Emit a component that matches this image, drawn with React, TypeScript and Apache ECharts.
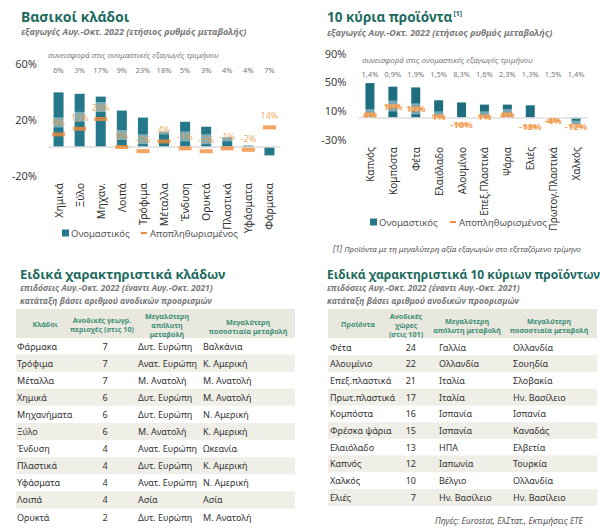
import React, { useEffect, useRef } from "react";
import * as echarts from "echarts";

const FONT = "'Noto Sans', 'Open Sans', sans-serif";

// Chart 1: sectors
const sectors = ["Χημικά", "Ξύλο", "Μηχαν.", "Λοιπά", "Τρόφιμα", "Μέταλλα", "Ένδυση", "Ορυκτά", "Πλαστικά", "Υφάσματα", "Φάρμακα"];
const sectorNominal = [39, 38, 36, 26, 21, 11, 18, 14.5, 7, 1, -6];
const sectorDeflated = [9, 13, 20, 0, -3, 4, -1, -3, -1, -2, 14];
const sectorShare = ["6%", "3%", "17%", "9%", "23%", "18%", "5%", "3%", "4%", "4%", "7%"];

// Chart 2: products
const products = ["Καπνός", "Κομπόστα", "Φέτα", "Ελαιόλαδο", "Αλουμίνιο", "Επεξ.Πλαστικά", "Ψάρια", "Ελιές", "Πρωτογ.Πλαστικά", "Χαλκός"];
const productNominal = [48, 43, 42, 24, 21, 18, 18, 17, 0.5, -9];
const productDeflated = [4, 16, 12, 1, -10, 1, 4, -13, -4, -12];
const productShare = ["1,4%", "0,9%", "1,9%", "1,5%", "8,3%", "1,6%", "2,3%", "1,3%", "1,5%", "1,4%"];

// Table 1: sectors
const tSectorNames = ["Φάρμακα", "Τρόφιμα", "Μέταλλα", "Χημικά", "Μηχανήματα", "Ξύλο", "Ένδυση", "Πλαστικά", "Υφάσματα", "Λοιπά", "Ορυκτά"];
const tSectorUp = [7, 7, 7, 6, 6, 6, 4, 4, 4, 4, 2];
const tSectorAbs = ["Δυτ. Ευρώπη", "Ανατ. Ευρώπη", "Μ. Ανατολή", "Δυτ. Ευρώπη", "Δυτ. Ευρώπη", "Μ. Ανατολή", "Ανατ. Ευρώπη", "Δυτ. Ευρώπη", "Ανατ. Ευρώπη", "Ασία", "Δυτ. Ευρώπη"];
const tSectorPct = ["Βαλκάνια", "Κ. Αμερική", "Μ. Ανατολή", "Μ. Ανατολή", "Ν. Αμερική", "Κ. Αμερική", "Ωκεανία", "Κ. Αμερική", "Ν. Αμερική", "Ασία", "Μ. Ανατολή"];

// Table 2: products
const tProdNames = ["Φέτα", "Αλουμίνιο", "Επεξ.πλαστικά", "Πρωτ.πλαστικά", "Κομπόστα", "Φρέσκα ψάρια", "Ελαιόλαδο", "Καπνός", "Χαλκός", "Ελιές"];
const tProdUp = [24, 22, 21, 17, 16, 15, 13, 12, 10, 7];
const tProdAbs = ["Γαλλία", "Ολλανδία", "Ιταλία", "Ιταλία", "Ισπανία", "Ισπανία", "ΗΠΑ", "Ιαπωνία", "Βέλγιο", "Ην. Βασίλειο"];
const tProdPct = ["Ολλανδία", "Σουηδία", "Σλοβακία", "Ην. Βασίλειο", "Ισπανία", "Καναδάς", "Ελβετία", "Τουρκία", "Ολλανδία", "Ην. Βασίλειο"];

const TEAL = "#25788a";
const ORANGE = "#f28c38";
const TITLE = "#1d6b60";
const HEAD = "#3f8f78";
const GRAY = "#7a7a7a";
const STRIPE = "#efeee7";
const HEADBG = "#e9e8de";

function txt(x: number, y: number, text: string, o: any = {}) {
  return {
    type: "text",
    x,
    y,
    silent: true,
    style: {
      text,
      fontFamily: FONT,
      fontSize: o.size || 9,
      fontWeight: o.weight || "normal",
      fontStyle: o.style || "normal",
      fill: o.color || "#333",
      textAlign: o.align || "left",
      align: o.align || "left",
      textVerticalAlign: "middle",
      verticalAlign: "middle",
      rich: o.rich || undefined,
    },
  };
}

// multi-line header: one text element per line
function lines(g: any[], x: number, ys: number[], parts: string[], o: any) {
  parts.forEach((p, i) => g.push(txt(x, ys[i], p, o)));
}

function buildGraphic() {
  const g: any[] = [];
  const sub = { size: 9, weight: "bold", style: "italic", color: GRAY };
  // Titles
  g.push(txt(21, 16, "Βασικοί κλάδοι", { size: 14, weight: "bold", color: TITLE }));
  g.push(txt(21, 31, "εξαγωγές Αυγ.-Οκτ. 2022 (ετήσιος ρυθμός μεταβολής)", sub));
  g.push(txt(48, 54, "συνεισφορά στις ονομαστικές εξαγωγές τριμήνου", { size: 8, style: "italic", color: GRAY }));

  g.push(
    txt(327, 17, "10 κύρια προϊόντα{sup|[1]}", {
      size: 13.5,
      weight: "bold",
      color: TITLE,
      rich: { sup: { fontSize: 7, fontWeight: "bold", fill: TITLE, color: TITLE, fontFamily: FONT, padding: [0, 0, 8, 1] } },
    })
  );
  g.push(txt(327, 32, "εξαγωγές Αυγ.-Οκτ. 2022 (ετήσιος ρυθμός μεταβολής)", sub));
  g.push(txt(362, 59, "συνεισφορά στις ονομαστικές εξαγωγές τριμήνου", { size: 8, style: "italic", color: GRAY }));

  // Legends
  const legend = (x1: number, x2: number, y: number) => {
    g.push({ type: "rect", silent: true, shape: { x: x1, y: y - 3.5, width: 7, height: 7 }, style: { fill: TEAL } });
    g.push(txt(x1 + 9, y, "Ονομαστικός", { size: 9.5, color: "#555" }));
    g.push({ type: "rect", silent: true, shape: { x: x2, y: y - 1, width: 6, height: 2 }, style: { fill: ORANGE } });
    g.push(txt(x2 + 9, y, "Αποπληθωρισμένος", { size: 9.5, color: "#555" }));
  };
  legend(62, 141, 233);
  legend(370, 450, 222);

  g.push(txt(333, 248, "[1] Προϊόντα με τη μεγαλύτερη αξία εξαγωγών στο εξεταζόμενο τρίμηνο", { size: 8, style: "italic", color: "#555" }));

  // Table titles
  const sub2 = { size: 8.5, weight: "bold", style: "italic", color: GRAY };
  g.push(txt(20, 274, "Ειδικά χαρακτηριστικά κλάδων", { size: 13, weight: "bold", color: TITLE }));
  g.push(txt(20, 287, "επιδόσεις Αυγ.-Οκτ. 2022 (έναντι Αυγ.-Οκτ. 2021)", sub2));
  g.push(txt(20, 300, "κατάταξη βάσει αριθμού ανοδικών προορισμών", sub2));

  g.push(txt(327, 274, "Ειδικά χαρακτηριστικά 10 κύριων προϊόντων", { size: 12, weight: "bold", color: TITLE }));
  g.push(txt(327, 287, "επιδόσεις Αυγ.-Οκτ. 2022 (έναντι Αυγ.-Οκτ. 2021)", sub2));
  g.push(txt(327, 300, "κατάταξη βάσει αριθμού ανοδικών προορισμών", sub2));

  const hd = { size: 7.2, weight: "bold", color: HEAD, align: "center" };
  const y1 = [324];
  const y2 = [320, 329];
  const y3 = [315.5, 324.5, 333.5];

  // Table 1
  g.push({ type: "rect", silent: true, shape: { x: 16, y: 309, width: 279, height: 29 }, style: { fill: HEADBG } });
  lines(g, 45, y1, ["Κλάδοι"], hd);
  lines(g, 102, y2, ["Ανοδικές γεωγρ.", "περιοχές (στις 10)"], hd);
  lines(g, 167, y3, ["Μεγαλύτερη", "απόλυτη", "μεταβολή"], hd);
  lines(g, 248, [322, 331], ["Μεγαλύτερη", "ποσοστιαία μεταβολή"], hd);
  const rh1 = 17.1;
  tSectorNames.forEach((n, i) => {
    const cy = 346 + i * rh1;
    if (i % 2 === 1) {
      g.push({ type: "rect", silent: true, shape: { x: 16, y: cy - rh1 / 2, width: 279, height: rh1 }, style: { fill: STRIPE } });
    }
    g.push(txt(17, cy, n, { size: 9 }));
    g.push(txt(105, cy, String(tSectorUp[i]), { size: 9, align: "center" }));
    g.push(txt(138, cy, tSectorAbs[i], { size: 9 }));
    g.push(txt(203, cy, tSectorPct[i], { size: 9 }));
  });

  // Table 2
  g.push({ type: "rect", silent: true, shape: { x: 328, y: 309, width: 269, height: 29 }, style: { fill: HEADBG } });
  lines(g, 358, y1, ["Προϊόντα"], hd);
  lines(g, 406, y3, ["Ανοδικές", "χώρες", "(στις 101)"], hd);
  lines(g, 467, [321, 330], ["Μεγαλύτερη", "απόλυτη μεταβολή"], hd);
  lines(g, 549, [321, 330], ["Μεγαλύτερη", "ποσοστιαία μεταβολή"], hd);
  const rh2 = 16.7;
  tProdNames.forEach((n, i) => {
    const cy = 347 + i * rh2;
    if (i % 2 === 1) {
      g.push({ type: "rect", silent: true, shape: { x: 328, y: cy - rh2 / 2, width: 269, height: rh2 }, style: { fill: STRIPE } });
    }
    g.push(txt(330, cy, n, { size: 9 }));
    g.push(txt(416, cy, String(tProdUp[i]), { size: 9, align: "right" }));
    g.push(txt(439, cy, tProdAbs[i], { size: 9 }));
    g.push(txt(513, cy, tProdPct[i], { size: 9 }));
  });

  g.push(txt(583, 520, "Πηγές: Eurostat, ΕλΣτατ., Εκτιμήσεις ΕΤΕ", { size: 8.5, style: "italic", color: "#555", align: "right" }));
  return g;
}

const pct = (p: any) => {
  const v = Array.isArray(p.value) ? p.value[1] : p.value;
  return v + "%";
};

export default function App() {
  const ref = useRef<HTMLDivElement>(null);
  useEffect(() => {
    if (!ref.current) return;
    const chart = echarts.init(ref.current, null, { renderer: "svg" });
    const zeroLine = {
      silent: true,
      symbol: "none",
      label: { show: false },
      lineStyle: { color: "#dcdcdc", type: "solid", width: 1.5 },
      data: [{ yAxis: 0 }],
    };
    const catAxis = (gi: number, data: string[], size: number) => ({
      gridIndex: gi,
      type: "category",
      data,
      axisLine: { show: false },
      axisTick: { show: false },
      axisLabel: { rotate: 90, fontSize: size, color: "#333", margin: 8, interval: 0, fontFamily: FONT },
    });
    const topAxis = (gi: number, data: string[], share: string[], margin: number) => ({
      gridIndex: gi,
      type: "category",
      position: "top",
      data,
      axisLine: { show: false },
      axisTick: { show: false },
      axisLabel: {
        inside: true,
        margin,
        interval: 0,
        fontSize: 7.5,
        color: "#777",
        fontFamily: FONT,
        formatter: (_v: string, i: number) => share[i],
      },
    });
    const valAxis = (gi: number, min: number, max: number, margin: number) => ({
      gridIndex: gi,
      type: "value",
      min,
      max,
      interval: 40,
      splitLine: { show: false },
      axisLine: { show: false },
      axisTick: { show: false },
      axisLabel: { formatter: "{value}%", fontSize: 11, color: "#444", margin, fontFamily: FONT },
    });
    chart.setOption({
      animation: false,
      backgroundColor: "#ffffff",
      textStyle: { fontFamily: FONT },
      grid: [
        { left: 48, top: 63, width: 232, height: 112 },
        { left: 358.5, top: 53, width: 229, height: 86 },
      ],
      xAxis: [
        catAxis(0, sectors, 10.5),
        topAxis(0, sectors, sectorShare, 3),
        catAxis(1, products, 10),
        topAxis(1, products, productShare, 17),
      ],
      yAxis: [valAxis(0, -20, 60, 11), valAxis(1, -30, 90, 12)],
      series: [
        {
          type: "bar",
          name: "Ονομαστικός",
          xAxisIndex: 0,
          yAxisIndex: 0,
          data: sectorNominal,
          barWidth: 10,
          itemStyle: { color: TEAL },
          markLine: zeroLine,
        },
        {
          type: "scatter",
          name: "Αποπληθωρισμένος",
          xAxisIndex: 0,
          yAxisIndex: 0,
          data: sectorDeflated,
          symbol: "rect",
          symbolSize: [13, 4],
          itemStyle: { color: ORANGE },
          z: 5,
          label: {
            show: true,
            position: "top",
            distance: 5,
            formatter: pct,
            fontSize: 9,
            color: "#f0963c",
            backgroundColor: "rgba(255,255,255,0.5)",
            padding: [1, 1, 0, 1],
          },
        },
        {
          type: "bar",
          name: "Ονομαστικός",
          xAxisIndex: 2,
          yAxisIndex: 1,
          data: productNominal,
          barWidth: 9,
          itemStyle: { color: "#1f6e80" },
          markLine: zeroLine,
        },
        {
          type: "scatter",
          name: "Αποπληθωρισμένος",
          xAxisIndex: 2,
          yAxisIndex: 1,
          data: productDeflated,
          symbol: "rect",
          symbolSize: [13, 4],
          itemStyle: { color: ORANGE },
          z: 5,
          label: {
            show: true,
            position: "inside",
            formatter: pct,
            fontSize: 9.5,
            fontWeight: "bold",
            color: "#f08a2c",
            backgroundColor: "rgba(255,255,255,0.5)",
            padding: [1, 1, 0, 1],
          },
        },
      ],
      graphic: buildGraphic(),
    });
    return () => chart.dispose();
  }, []);
  return <div ref={ref} style={{ position: "absolute", left: 0, top: 0, width: 600, height: 531 }} />;
}
